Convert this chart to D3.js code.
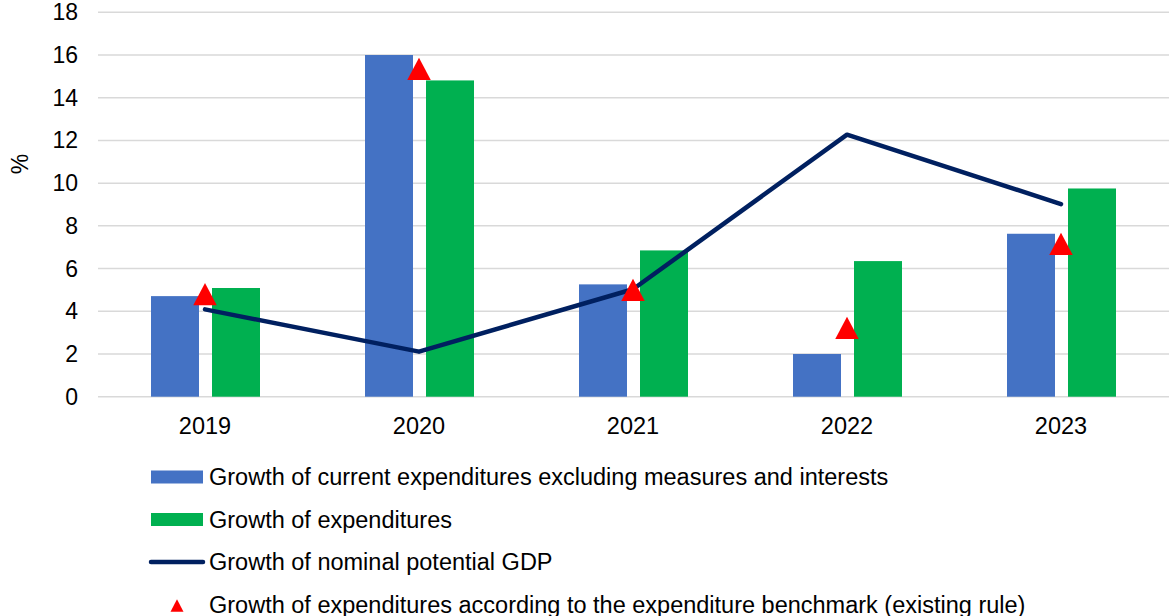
<!DOCTYPE html>
<html>
<head>
<meta charset="utf-8">
<script src="https://cdn.jsdelivr.net/npm/d3@7"></script>
<style>
  body { margin: 0; background: #fff; }
  text { font-family: "Liberation Sans", Arial, sans-serif; fill: #000; }
</style>
</head>
<body>
<script>
// data
var years = ['2019', '2020', '2021', '2022', '2023'];
var currentExp = [4.71, 16.0, 5.26, 2.0, 7.63];
var totalExp = [5.09, 14.81, 6.85, 6.35, 9.75];
var potentialGdp = [4.09, 2.11, 5.03, 12.27, 9.02];
var benchmark = [4.8, 15.35, 5.0, 3.22, 7.16];
var yTicks = [0, 2, 4, 6, 8, 10, 12, 14, 16, 18];
var legendLabels = [
  'Growth of current expenditures excluding measures and interests',
  'Growth of expenditures',
  'Growth of nominal potential GDP',
  'Growth of expenditures according to the expenditure benchmark (existing rule)'
];

var blue = '#4472C4', green = '#00B050', navy = '#002060', red = '#FF0000';

var svg = d3.select('body').append('svg')
    .attr('width', 1169)
    .attr('height', 616);

var x = d3.scaleBand().domain(years).range([98, 1168]);
var y = d3.scaleLinear().domain([0, 18]).range([396.7, 12.3]);

// excel style triangle, centred on its box (size = base width)
var excelTriangle = {
    draw: function(ctx, size) {
        var w = size, h = size * 0.95;
        ctx.moveTo(0, -h / 2);
        ctx.lineTo(w / 2, h / 2);
        ctx.lineTo(-w / 2, h / 2);
        ctx.closePath();
    }
};

// gridlines
svg.append('g').selectAll('line')
    .data(yTicks)
    .enter().append('line')
    .attr('x1', 98)
    .attr('x2', 1169)
    .attr('y1', function(d){ return y(d); })
    .attr('y2', function(d){ return y(d); })
    .attr('stroke', '#d9d9d9')
    .attr('stroke-width', 1.5);

// y tick labels
svg.append('g').selectAll('text')
    .data(yTicks)
    .enter().append('text')
    .attr('x', 78)
    .attr('y', function(d){ return y(d); })
    .attr('dy', '0.35em')
    .attr('text-anchor', 'end')
    .style('font-size', '23px')
    .text(function(d){ return d; });

svg.append('text')
    .attr('transform', 'translate(28,164) rotate(-90)')
    .attr('text-anchor', 'middle')
    .style('font-size', '23px')
    .text('%');

// x labels
svg.append('g').selectAll('text')
    .data(years)
    .enter().append('text')
    .attr('x', function(d){ return x(d) + x.bandwidth() / 2; })
    .attr('y', 433.5)
    .attr('text-anchor', 'middle')
    .style('font-size', '23.5px')
    .text(function(d){ return d; });

var barW = 48;

svg.append('g').selectAll('rect')
    .data(currentExp)
    .enter().append('rect')
    .attr('x', function(d, i){ return x(years[i]) + x.bandwidth() / 2 - 6 - barW; })
    .attr('y', function(d){ return y(d); })
    .attr('width', barW)
    .attr('height', function(d){ return y(0) - y(d); })
    .attr('fill', blue);

svg.append('g').selectAll('rect')
    .data(totalExp)
    .enter().append('rect')
    .attr('x', function(d, i){ return x(years[i]) + x.bandwidth() / 2 + 7; })
    .attr('y', function(d){ return y(d); })
    .attr('width', barW)
    .attr('height', function(d){ return y(0) - y(d); })
    .attr('fill', green);

var line = d3.line()
    .x(function(d, i){ return x(years[i]) + x.bandwidth() / 2; })
    .y(function(d){ return y(d); });

svg.append('path')
    .datum(potentialGdp)
    .attr('d', line)
    .attr('fill', 'none')
    .attr('stroke', navy)
    .attr('stroke-width', 4.5)
    .attr('stroke-linecap', 'round')
    .attr('stroke-linejoin', 'round');

svg.append('g').selectAll('path')
    .data(benchmark)
    .enter().append('path')
    .attr('d', d3.symbol().type(excelTriangle).size(23.5))
    .attr('transform', function(d, i){
        return 'translate(' + (x(years[i]) + x.bandwidth() / 2) + ',' + y(d) + ')';
    })
    .attr('fill', red);

// legend
var legend = svg.append('g');
var rowY = [477, 519.5, 562, 604.5];

legend.append('rect').attr('x', 151).attr('y', rowY[0] - 6.5).attr('width', 52).attr('height', 13).attr('fill', blue);
legend.append('rect').attr('x', 151).attr('y', rowY[1] - 6.5).attr('width', 52).attr('height', 13).attr('fill', green);
legend.append('line')
    .attr('x1', 151).attr('x2', 203)
    .attr('y1', rowY[2]).attr('y2', rowY[2])
    .attr('stroke', navy).attr('stroke-width', 4.5).attr('stroke-linecap', 'round');
legend.append('path')
    .attr('d', d3.symbol().type(excelTriangle).size(13))
    .attr('transform', 'translate(177,605.5)')
    .attr('fill', red);

legend.selectAll('text')
    .data(legendLabels)
    .enter().append('text')
    .attr('x', 209)
    .attr('y', function(d, i){ return rowY[i]; })
    .attr('dy', '0.35em')
    .style('font-size', '23.5px')
    .text(function(d){ return d; });
</script>
</body>
</html>
